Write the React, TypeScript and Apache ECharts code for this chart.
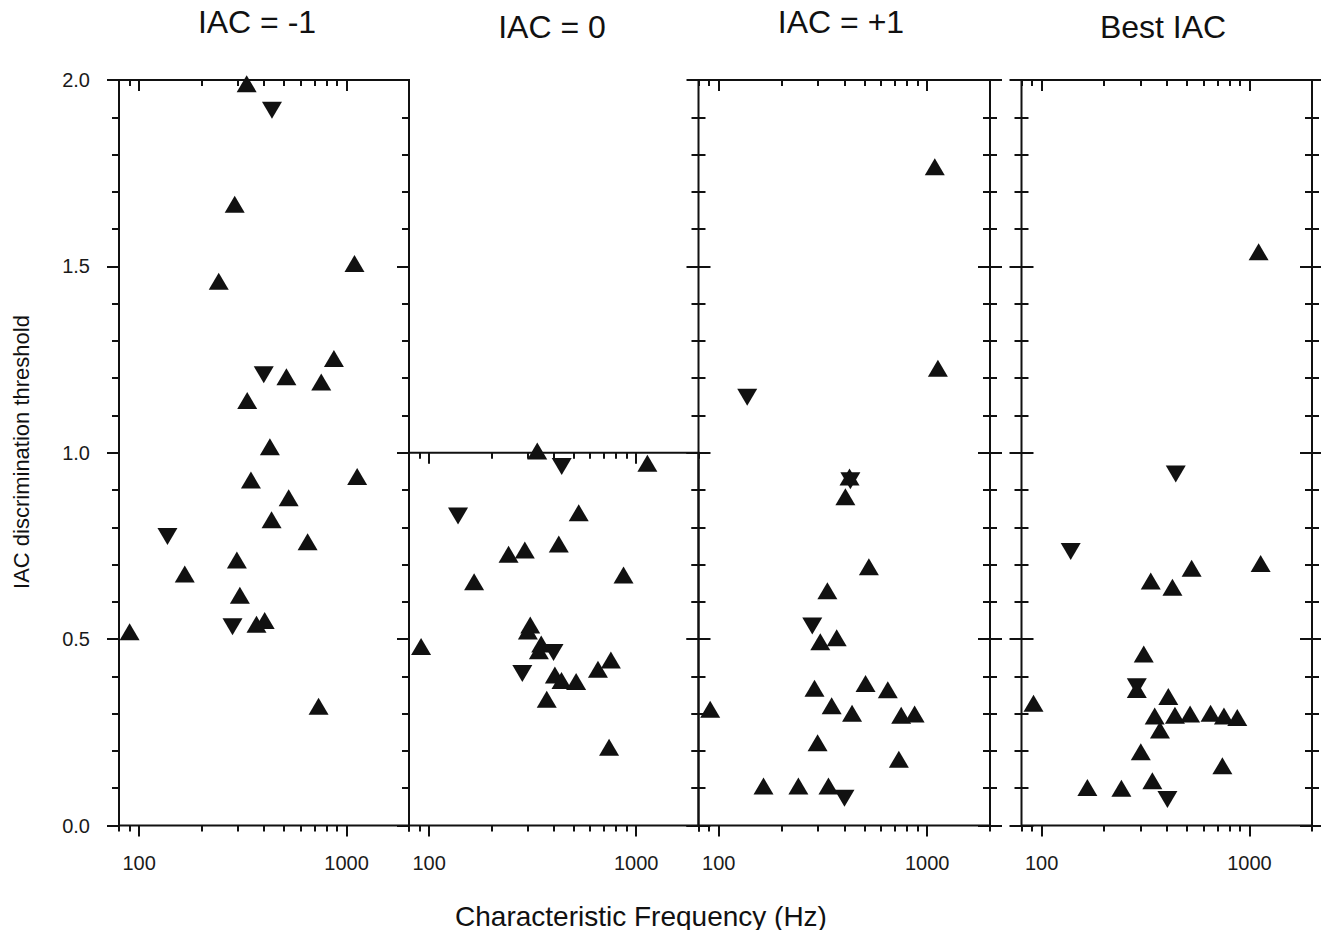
import React, { useEffect, useRef } from 'react';
import * as echarts from 'echarts';

const panelTitles = ['IAC = -1', 'IAC = 0', 'IAC = +1', 'Best IAC'];
const xMajorTicks = [100, 1000];
const xMinorTicks = [80, 90, 200, 300, 400, 500, 600, 700, 800, 900, 2000];
const yMaxByPanel = [2, 1, 2, 2];

const iacMinus1Up = [
  [90, 0.52], [166, 0.675], [242, 1.46], [289, 1.667], [330, 1.99], [332, 1.14], [346, 0.927],
  [296, 0.712], [306, 0.618], [368, 0.54], [403, 0.55], [427, 1.016], [435, 0.82], [513, 1.204],
  [526, 0.879], [649, 0.761], [733, 0.32], [755, 1.19], [869, 1.253], [1092, 1.508], [1125, 0.936],
];
const iacMinus1Down = [[137, 0.775], [282, 0.533], [399, 1.209], [437, 1.919]];

const iac0Up = [
  [333, 1.005], [1133, 0.972], [528, 0.839], [423, 0.755], [242, 0.728], [290, 0.739], [165, 0.654],
  [869, 0.672], [91.5, 0.48], [308, 0.538], [300, 0.522], [348, 0.487], [339, 0.469], [405, 0.404],
  [436, 0.389], [513, 0.386], [370, 0.339], [654, 0.419], [755, 0.444], [740, 0.21],
];
const iac0Down = [[437, 0.963], [138, 0.83], [399, 0.464], [282, 0.408]];

const iacPlus1Up = [
  [1125, 1.227], [1087, 1.767], [405, 0.882], [424, 0.935], [525, 0.694], [332, 0.63], [307, 0.493],
  [368, 0.504], [288, 0.368], [506, 0.381], [647, 0.364], [348, 0.321], [436, 0.301], [750, 0.296],
  [870, 0.299], [91, 0.312], [298, 0.222], [731, 0.178], [164, 0.106], [241, 0.106], [336, 0.106],
];
const iacPlus1Down = [[137, 1.149], [281, 0.535], [401, 0.073], [428, 0.925]];

const bestIacUp = [
  [1107, 1.539], [1132, 0.703], [527, 0.69], [335, 0.656], [426, 0.639], [310, 0.46], [287, 0.365],
  [407, 0.346], [91.4, 0.328], [350, 0.294], [438, 0.296], [518, 0.299], [650, 0.301], [754, 0.294],
  [874, 0.29], [371, 0.256], [300, 0.198], [741, 0.16], [341, 0.12], [166, 0.102], [242, 0.1],
];
const bestIacDown = [[138, 0.735], [442, 0.943], [403, 0.07], [287, 0.372]];

const panelUp = [iacMinus1Up, iac0Up, iacPlus1Up, bestIacUp];
const panelDown = [iacMinus1Down, iac0Down, iacPlus1Down, bestIacDown];

const INK = '#111';
const FONT = "'Liberation Sans', Arial, sans-serif";

export default function App() {
  const ref = useRef<HTMLDivElement>(null);

  useEffect(() => {
    document.body.style.margin = '0';
    const chart = echarts.init(ref.current!, undefined, { renderer: 'svg' });

    const BOTTOM = 825.5;
    const TOP = 80;
    const unit = (BOTTOM - TOP) / 2;
    const grids = [
      { left: 119, width: 290 },
      { left: 409, width: 289.5 },
      { left: 698.5, width: 291.5 },
      { left: 1021.5, width: 290.5 },
    ].map((g, i) => ({
      left: g.left,
      width: g.width,
      top: BOTTOM - unit * yMaxByPanel[i],
      height: unit * yMaxByPanel[i],
      show: true,
      borderColor: INK,
      borderWidth: 2,
      backgroundColor: 'transparent',
      containLabel: false,
    }));

    const leftStyle = ['out', 'out', 'cross', 'cross'];
    const rightStyle = ['in', 'in', 'cross', 'cross'];

    const xAxes: any[] = [];
    const yAxes: any[] = [];
    const series: any[] = [];
    const majorX: number[] = [];
    const majorY: number[] = [];

    const tickLine = { lineStyle: { color: INK, width: 2 } };

    for (let i = 0; i < 4; i++) {
      const xBase = {
        type: 'log',
        logBase: 10,
        min: 80,
        max: 2000,
        gridIndex: i,
        axisLine: { show: false, onZero: false },
        splitLine: { show: false },
        minorTick: { show: false },
      };
      majorX.push(xAxes.length);
      xAxes.push({
        ...xBase,
        position: 'bottom',
        axisTick: { show: true, inside: false, length: 11, customValues: xMajorTicks, ...tickLine },
        axisLabel: {
          show: true,
          customValues: xMajorTicks,
          margin: 27,
          fontSize: 20,
          color: '#1a1a1a',
          fontFamily: FONT,
          formatter: (v: number) => String(Math.round(v)),
        },
      });
      xAxes.push({
        ...xBase,
        position: 'bottom',
        axisTick: { show: true, inside: false, length: 6, customValues: xMinorTicks, ...tickLine },
        axisLabel: { show: false },
      });
      xAxes.push({
        ...xBase,
        position: 'top',
        axisTick: { show: true, inside: true, length: 11, customValues: xMajorTicks, ...tickLine },
        axisLabel: { show: false },
      });
      xAxes.push({
        ...xBase,
        position: 'top',
        axisTick: { show: true, inside: true, length: 6, customValues: xMinorTicks, ...tickLine },
        axisLabel: { show: false },
      });

      const yBase = {
        type: 'value',
        min: 0,
        max: yMaxByPanel[i],
        gridIndex: i,
        axisLine: { show: false, onZero: false },
        splitLine: { show: false },
      };
      const addSide = (pos: string, style: string, withLabel: boolean) => {
        const insides = style === 'cross' ? [false, true] : [style === 'in'];
        insides.forEach((inside, k) => {
          const labelHere = withLabel && k === 0;
          if (pos === 'left' && k === 0) majorY.push(yAxes.length);
          yAxes.push({
            ...yBase,
            position: pos,
            interval: 0.5,
            axisTick: { show: true, inside, length: 12, ...tickLine },
            axisLabel: labelHere
              ? {
                  show: true,
                  margin: 29,
                  fontSize: 20,
                  color: '#1a1a1a',
                  fontFamily: FONT,
                  formatter: (v: number) => v.toFixed(1),
                }
              : { show: false },
          });
          yAxes.push({
            ...yBase,
            position: pos,
            interval: 0.1,
            axisTick: { show: true, inside, length: 7, ...tickLine },
            axisLabel: { show: false },
          });
        });
      };
      addSide('left', leftStyle[i], i === 0);
      addSide('right', rightStyle[i], false);

      series.push({
        type: 'scatter',
        xAxisIndex: majorX[i],
        yAxisIndex: majorY[i],
        data: panelUp[i],
        symbol: 'triangle',
        symbolSize: [20, 17],
        clip: false,
        itemStyle: { color: INK, opacity: 1 },
      });
      series.push({
        type: 'scatter',
        xAxisIndex: majorX[i],
        yAxisIndex: majorY[i],
        data: panelDown[i],
        symbol: 'triangle',
        symbolRotate: 180,
        symbolSize: [20, 17],
        clip: false,
        itemStyle: { color: INK, opacity: 1 },
      });
    }

    const titleCenters = [[257, 22], [552, 27], [841, 22], [1163, 27]];
    const graphic: any[] = titleCenters.map((c, i) => ({
      type: 'text',
      x: c[0],
      y: c[1],
      style: {
        text: panelTitles[i],
        fontSize: 32,
        fontFamily: FONT,
        fill: '#111',
        align: 'center',
        verticalAlign: 'middle',
      },
    }));
    graphic.push({
      type: 'text',
      x: 641,
      y: 916,
      style: {
        text: 'Characteristic Frequency (Hz)',
        fontSize: 28,
        fontFamily: FONT,
        fill: '#111',
        align: 'center',
        verticalAlign: 'middle',
      },
    });
    graphic.push({
      type: 'text',
      x: 21,
      y: 452,
      rotation: Math.PI / 2,
      style: {
        text: 'IAC discrimination threshold',
        fontSize: 22,
        fontFamily: FONT,
        fill: '#111',
        align: 'center',
        verticalAlign: 'middle',
      },
    });

    chart.setOption({
      animation: false,
      backgroundColor: '#fff',
      grid: grids,
      xAxis: xAxes,
      yAxis: yAxes,
      series,
      graphic,
    });

    return () => chart.dispose();
  }, []);

  return <div ref={ref} style={{ width: 1321, height: 930 }} />;
}
